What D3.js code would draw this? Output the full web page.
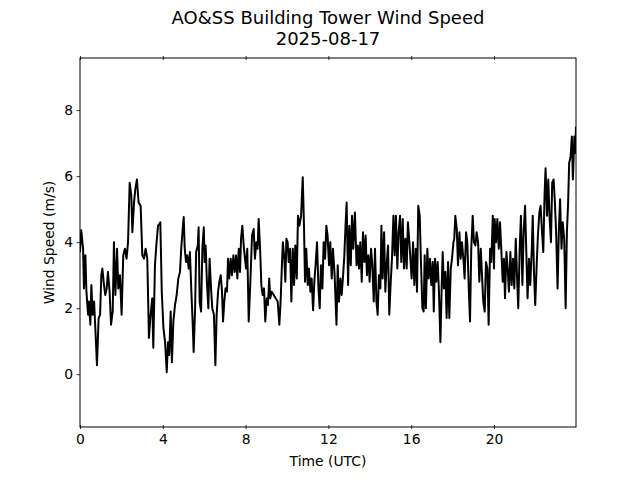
<!DOCTYPE html>
<html>
<head>
<meta charset="utf-8">
<script src="https://cdn.jsdelivr.net/npm/d3@7"></script>
<style>
  body { margin: 0; background: #fff; }
  svg { font-family: "DejaVu Sans", sans-serif; }
</style>
</head>
<body>
<svg id="chart"></svg>
<script>

// hours since 00 UTC
const hours = [
  0.00, 0.06, 0.15, 0.19, 0.26, 0.31, 0.39, 0.43, 0.50, 0.55, 0.61, 0.68, 0.74, 0.82, 0.90, 0.97,
  1.03, 1.08, 1.16, 1.22, 1.29, 1.35, 1.43, 1.50, 1.58, 1.64, 1.71, 1.79, 1.85, 1.93, 2.01, 2.09,
  2.17, 2.25, 2.32, 2.40, 2.48, 2.53, 2.61, 2.67, 2.75, 2.83, 2.93, 3.01, 3.09, 3.17, 3.25, 3.33,
  3.41, 3.49, 3.54, 3.62, 3.70, 3.77, 3.83, 3.88, 3.95, 4.03, 4.11, 4.19, 4.25, 4.31, 4.38, 4.44,
  4.51, 4.59, 4.67, 4.75, 4.83, 4.89, 4.96, 5.01, 5.06, 5.12, 5.18, 5.25, 5.31, 5.38, 5.44, 5.49,
  5.56, 5.61, 5.69, 5.73, 5.78, 5.85, 5.91, 5.98, 6.02, 6.07, 6.13, 6.20, 6.26, 6.33, 6.39, 6.47,
  6.54, 6.60, 6.67, 6.73, 6.80, 6.86, 6.91, 6.97, 7.03, 7.10, 7.15, 7.21, 7.28, 7.34, 7.41, 7.47,
  7.54, 7.60, 7.67, 7.73, 7.78, 7.84, 7.92, 8.02, 8.08, 8.15, 8.23, 8.31, 8.39, 8.45, 8.52, 8.58,
  8.63, 8.70, 8.76, 8.82, 8.89, 8.95, 9.02, 9.08, 9.14, 9.19, 9.26, 9.36, 9.45, 9.55, 9.63, 9.69,
  9.76, 9.80, 9.87, 9.92, 9.97, 10.03, 10.08, 10.15, 10.21, 10.28, 10.34, 10.40, 10.47, 10.53, 10.60, 10.68,
  10.76, 10.82, 10.87, 10.93, 11.00, 11.06, 11.13, 11.19, 11.26, 11.32, 11.39, 11.45, 11.52, 11.58, 11.64, 11.71,
  11.77, 11.84, 11.90, 11.96, 12.03, 12.09, 12.16, 12.22, 12.30, 12.39, 12.45, 12.51, 12.58, 12.64, 12.71, 12.77,
  12.82, 12.88, 12.95, 13.01, 13.08, 13.14, 13.20, 13.28, 13.36, 13.42, 13.48, 13.54, 13.61, 13.67, 13.74, 13.80,
  13.86, 13.93, 13.99, 14.06, 14.12, 14.19, 14.25, 14.32, 14.38, 14.44, 14.51, 14.56, 14.62, 14.69, 14.75, 14.81,
  14.88, 14.94, 15.01, 15.07, 15.14, 15.20, 15.26, 15.33, 15.39, 15.46, 15.52, 15.59, 15.65, 15.72, 15.78, 15.84,
  15.91, 16.02, 16.09, 16.15, 16.22, 16.28, 16.34, 16.41, 16.47, 16.54, 16.60, 16.65, 16.71, 16.78, 16.84, 16.91,
  16.97, 17.04, 17.09, 17.15, 17.21, 17.28, 17.34, 17.41, 17.47, 17.52, 17.58, 17.65, 17.71, 17.78, 17.84, 17.91,
  17.97, 18.04, 18.08, 18.13, 18.20, 18.26, 18.33, 18.39, 18.45, 18.52, 18.58, 18.65, 18.71, 18.78, 18.84, 18.90,
  18.97, 19.03, 19.10, 19.16, 19.23, 19.29, 19.36, 19.42, 19.48, 19.55, 19.61, 19.68, 19.74, 19.81, 19.87, 19.94,
  20.00, 20.03, 20.10, 20.16, 20.23, 20.29, 20.35, 20.42, 20.48, 20.53, 20.60, 20.66, 20.72, 20.79, 20.85, 20.92,
  20.98, 21.05, 21.11, 21.17, 21.24, 21.30, 21.37, 21.43, 21.50, 21.56, 21.62, 21.69, 21.75, 21.82, 21.87, 21.93,
  21.99, 22.06, 22.12, 22.19, 22.25, 22.32, 22.38, 22.44, 22.49, 22.56, 22.62, 22.68, 22.75, 22.81, 22.88, 22.94,
  23.00, 23.07, 23.13, 23.19, 23.26, 23.32, 23.39, 23.46, 23.52, 23.58, 23.63, 23.70, 23.76, 23.81, 23.88, 23.92,
  23.96
];

// wind speed (m/s)
const speeds = [
  3.7, 4.36, 3.8, 2.6, 3.6, 2.5, 1.8, 2.2, 1.5, 2.7, 1.8, 2.2, 1.4, 0.27, 1.7, 1.8,
  3.0, 3.2, 2.7, 2.4, 2.6, 3.1, 2.5, 1.5, 1.9, 4.0, 2.4, 3.8, 2.6, 3.0, 1.8, 3.6,
  3.8, 3.5, 4.0, 5.8, 5.4, 4.3, 5.2, 5.6, 5.9, 5.2, 5.1, 3.6, 3.5, 3.8, 3.5, 1.1,
  1.8, 2.3, 0.8, 3.3, 4.0, 4.5, 4.55, 4.6, 2.5, 1.4, 0.97, 0.06, 0.97, 0.58, 1.9, 0.36,
  1.6, 2.1, 2.4, 2.9, 3.1, 3.8, 4.4, 4.76, 3.8, 3.4, 3.6, 3.2, 3.7, 2.5, 1.6, 0.67,
  2.0, 3.7, 3.9, 4.45, 2.2, 1.9, 3.8, 4.45, 3.4, 3.9, 2.8, 2.0, 3.5, 2.6, 2.0, 1.8,
  0.27, 1.8, 2.5, 2.8, 3.0, 2.5, 1.6, 2.2, 2.6, 2.5, 3.5, 2.9, 3.5, 3.0, 3.6, 3.1,
  3.6, 2.9, 3.8, 3.1, 4.1, 4.5, 3.8, 3.2, 3.8, 1.6, 2.8, 4.2, 4.4, 3.5, 4.0, 3.8,
  4.7, 3.8, 2.7, 2.4, 2.6, 1.6, 2.3, 2.1, 2.9, 2.3, 2.5, 2.4, 2.3, 2.2, 1.5, 2.2,
  3.4, 4.0, 3.5, 2.8, 4.1, 4.0, 3.4, 3.8, 2.2, 3.8, 2.7, 3.9, 2.9, 4.8, 4.5, 4.8,
  5.97, 4.5, 2.8, 3.8, 2.7, 3.2, 2.5, 2.9, 1.94, 2.8, 3.4, 4.0, 2.6, 2.0, 3.3, 2.6,
  4.0, 3.5, 4.5, 4.2, 3.3, 4.0, 2.9, 3.8, 3.0, 1.5, 3.3, 2.2, 2.9, 2.4, 3.0, 3.6,
  4.4, 5.2, 2.7, 4.5, 3.3, 4.8, 3.8, 4.9, 3.3, 3.9, 3.2, 4.0, 2.8, 4.3, 3.4, 4.2,
  3.0, 3.6, 2.8, 3.8, 3.3, 2.2, 3.8, 2.2, 1.8, 3.0, 2.6, 4.5, 2.9, 4.3, 2.5, 3.3,
  3.9, 1.8, 2.8, 3.5, 4.8, 3.6, 4.8, 3.2, 4.3, 4.8, 3.4, 4.7, 3.2, 4.1, 3.2, 4.6,
  4.0, 2.9, 4.0, 2.7, 3.8, 2.5, 5.1, 4.8, 3.4, 2.0, 1.9, 3.6, 2.0, 3.8, 2.9, 3.5,
  2.7, 3.4, 1.9, 3.5, 2.8, 3.4, 2.5, 0.97, 2.6, 3.7, 2.6, 3.1, 1.7, 3.4, 1.7, 3.2,
  3.5, 4.0, 4.1, 4.8, 4.4, 3.3, 4.3, 3.5, 4.0, 3.5, 2.9, 4.3, 4.0, 2.6, 1.6, 3.8,
  4.8, 4.0, 3.9, 4.3, 4.0, 2.8, 3.8, 3.0, 2.2, 1.9, 3.4, 3.2, 1.5, 3.8, 3.4, 4.8,
  3.2, 4.7, 4.0, 4.7, 3.8, 4.6, 3.8, 2.8, 3.5, 2.3, 3.7, 3.2, 2.5, 3.7, 2.7, 3.5,
  2.6, 4.1, 3.0, 2.0, 3.8, 4.8, 2.7, 4.3, 5.1, 3.7, 2.3, 3.5, 2.7, 3.7, 4.8, 3.1,
  2.1, 3.3, 4.2, 4.9, 5.1, 4.3, 3.7, 5.4, 6.24, 4.8, 5.9, 4.8, 4.0, 5.8, 5.9, 5.2,
  4.3, 2.6, 4.3, 5.3, 3.8, 4.6, 4.1, 2.0, 4.3, 5.2, 6.4, 6.6, 7.2, 5.9, 7.2, 6.7,
  7.5
];

const xTicks = [0, 4, 8, 12, 16, 20];
const yTicks = [0, 2, 4, 6, 8];
const titleLines = ['AO&SS Building Tower Wind Speed', '2025-08-17'];

class WindLine {

  constructor(_config) {
    this.config = {
      parentElement: _config.parentElement,
      containerWidth: _config.containerWidth || 640,
      containerHeight: _config.containerHeight || 480,
      margin: { top: 58, right: 64, bottom: 53, left: 80 }
    };
    this.data = hours.map((h, i) => ({ h: h, v: speeds[i] }));
    this.initVis();
  }

  initVis() {
    let vis = this;

    vis.width = vis.config.containerWidth - vis.config.margin.left - vis.config.margin.right;
    vis.height = vis.config.containerHeight - vis.config.margin.top - vis.config.margin.bottom;

    vis.svg = d3.select(vis.config.parentElement)
      .attr('width', vis.config.containerWidth)
      .attr('height', vis.config.containerHeight);

    vis.chart = vis.svg.append('g')
      .attr('transform', `translate(${vis.config.margin.left},${vis.config.margin.top})`);

    vis.x = d3.scaleLinear()
      .domain([0, d3.max(hours)])
      .range([0, vis.width]);

    vis.y = d3.scaleLinear()
      .domain([-1.6, 9.58])
      .range([vis.height, 0]);

    // title, two lines
    vis.svg.append('text')
      .attr('x', vis.config.margin.left + vis.width / 2)
      .attr('y', 24)
      .attr('text-anchor', 'middle')
      .style('font-size', '18px')
      .selectAll('tspan')
      .data(titleLines)
      .join('tspan')
      .attr('x', vis.config.margin.left + vis.width / 2)
      .attr('dy', (d, i) => i == 0 ? 0 : 20.5)
      .text(d => d);

    vis.chart.append('text')
      .attr('x', vis.width / 2)
      .attr('y', vis.height + 39)
      .attr('text-anchor', 'middle')
      .style('font-size', '13.9px')
      .text('Time (UTC)');

    vis.chart.append('text')
      .attr('transform', `translate(-26,${vis.height / 2}) rotate(-90)`)
      .attr('text-anchor', 'middle')
      .style('font-size', '13.9px')
      .text('Wind Speed (m/s)');

    vis.updateVis();
  }

  updateVis() {
    let vis = this;

    // x ticks sit across the bottom and top spines
    let xAxis = d3.axisBottom(vis.x).tickValues(xTicks).tickSize(2).tickSizeOuter(0);
    let gx = vis.chart.append('g')
      .attr('transform', `translate(0,${vis.height})`)
      .call(xAxis);
    gx.selectAll('.tick line').attr('y1', -2).attr('y2', 2);
    gx.selectAll('.tick text').attr('y', 7).style('font-size', '13.9px').attr('dy', '0.71em');

    let gxTop = vis.chart.append('g')
      .call(d3.axisTop(vis.x).tickValues(xTicks).tickSize(2).tickSizeOuter(0).tickFormat(''));
    gxTop.selectAll('.tick line').attr('y1', -2).attr('y2', 2);

    let gy = vis.chart.append('g')
      .call(d3.axisLeft(vis.y).tickValues(yTicks).tickSize(3.5).tickPadding(3.5).tickSizeOuter(0));
    gy.selectAll('.tick text').style('font-size', '13.9px');

    vis.chart.selectAll('.domain').remove();
    vis.chart.selectAll('.tick line').attr('stroke', '#000').attr('stroke-width', 0.8);
    vis.chart.selectAll('.tick text').attr('fill', '#000').style('font-family', '"DejaVu Sans", sans-serif');

    vis.chart.append('clipPath')
      .attr('id', 'clip')
      .append('rect')
      .attr('width', vis.width)
      .attr('height', vis.height);

    let line = d3.line()
      .x(d => vis.x(d.h))
      .y(d => vis.y(d.v));

    vis.chart.append('path')
      .datum(vis.data)
      .attr('clip-path', 'url(#clip)')
      .attr('fill', 'none')
      .attr('stroke', '#000')
      .attr('stroke-width', 2)
      .attr('stroke-linejoin', 'round')
      .attr('d', line);

    vis.chart.append('rect')
      .attr('width', vis.width)
      .attr('height', vis.height)
      .attr('fill', 'none')
      .attr('stroke', '#000')
      .attr('stroke-width', 1);
  }
}

let windChart = new WindLine({ parentElement: '#chart' });

</script>
</body>
</html>
